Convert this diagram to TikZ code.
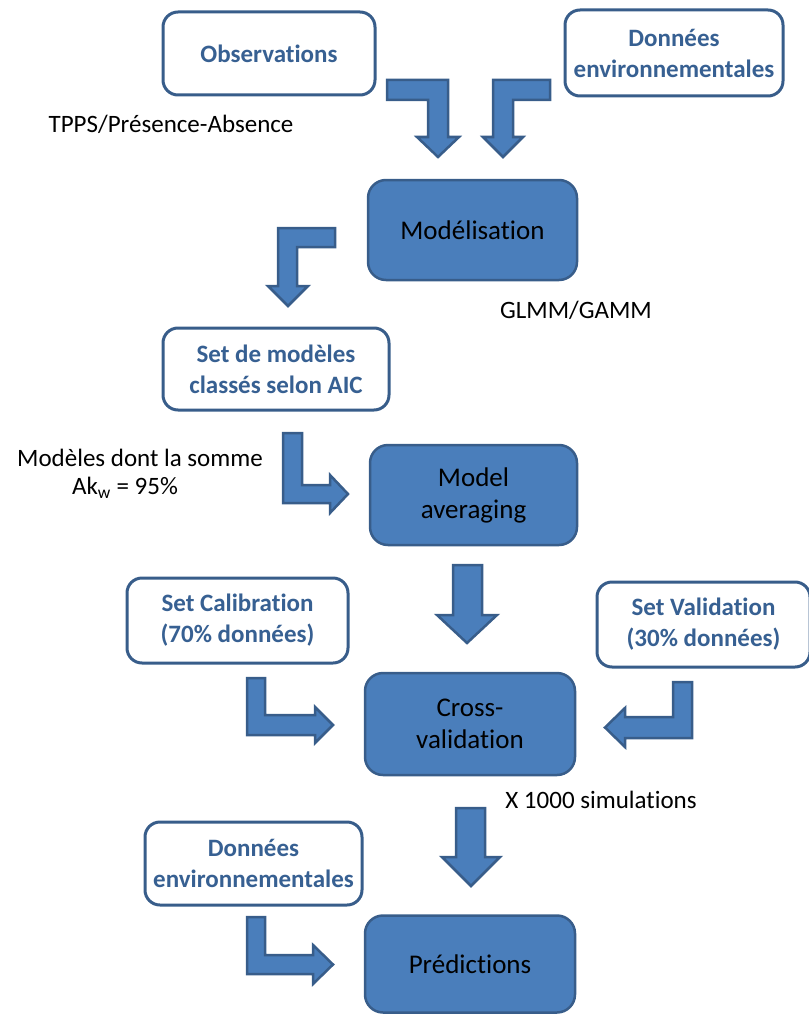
\documentclass[tikz,border=0pt]{standalone}
\usepackage{fontspec}
\setmainfont[RawFeature={-liga;-calt;-dlig}]{Carlito}

\definecolor{boxfill}{HTML}{4A7EBB}
\definecolor{boxline}{HTML}{385D8A}
\definecolor{boxtext}{HTML}{376092}

\tikzset{
  inbox/.style={draw=boxline, line width=3pt, rounded corners=15pt, fill=white,
    text=boxtext, font=\fontsize{25}{31}\selectfont\bfseries, align=center, inner sep=0pt},
  stepbox/.style={draw=boxline, line width=2.5pt, rounded corners=18pt, fill=boxfill,
    font=\fontsize{27}{32}\selectfont, align=center, inner sep=0pt},
  blockarrow/.style={draw=boxline, line width=2.5pt, fill=boxfill, line join=miter},
  note/.style={font=\fontsize{25}{30}\selectfont, inner sep=0pt}
}

\begin{document}
\begin{tikzpicture}[x=1pt, y=-1pt]
  \useasboundingbox (0,0) rectangle (808,1014);

  % input boxes
  \node [inbox, minimum width=212pt, minimum height=83pt] (obs) at (269,53.5) {Observations};
  \node [inbox, minimum width=218pt, minimum height=86pt] (envtop) at (674,53) {Données\\environnementales};
  \node [inbox, minimum width=226pt, minimum height=82pt] (setmod) at (276,369) {Set de modèles\\classés selon AIC};
  \node [inbox, minimum width=221pt, minimum height=85pt] (calib) at (237.5,620.5) {Set Calibration\\(70\% données)};
  \node [inbox, minimum width=213pt, minimum height=85pt] (valid) at (703.5,624.5) {Set Validation\\(30\% données)};
  \node [inbox, minimum width=217pt, minimum height=83pt] (envbot) at (253.5,863.5) {Données\\environnementales};

  % steps
  \node [stepbox, minimum width=209pt, minimum height=100pt] (model) at (472.5,230) {Modélisation};
  \node [stepbox, minimum width=207pt, minimum height=100pt] (avg) at (473.5,495) {Model\\averaging};
  \node [stepbox, minimum width=210pt, minimum height=102pt] (cross) at (470,724) {Cross-\\validation};
  \node [stepbox, minimum width=210pt, minimum height=97pt] (pred) at (470,964) {Prédictions};

  % notes
  \node [note] (tpps) at (171,124) {TPPS/Présence-Absence};
  \node [note] (glmm) at (576,310) {GLMM/GAMM};
  \node [note] (somme) at (140,458) {Modèles dont la somme};
  \node [note] (akw) at (125,488) {Ak\textsubscript{w} = 95\%};
  \node [note] (sims) at (601,800) {X 1000 simulations};

  % block arrows
  \draw [blockarrow] (387,80)--(448,80)--(448,137)--(459,137)--(438,157)--(417,137)--(428,137)--(428,100)--(387,100)--cycle;
  \draw [blockarrow] (550,80)--(493,80)--(493,137)--(483,137)--(503,157)--(523,137)--(513,137)--(513,100)--(550,100)--cycle;
  \draw [blockarrow] (335,228)--(278,228)--(278,286)--(268,286)--(288,306)--(308,286)--(297,286)--(297,247)--(335,247)--cycle;
  \draw [blockarrow] (283,433)--(302,433)--(302,485)--(330,485)--(330,475)--(348,494)--(330,513)--(330,503)--(283,503)--cycle;
  \draw [blockarrow] (453,565)--(482,565)--(482,615)--(497,615)--(467,643)--(437,615)--(453,615)--cycle;
  \draw [blockarrow] (247,678)--(265,678)--(265,715)--(315,715)--(315,707)--(333,725)--(315,743)--(315,735)--(247,735)--cycle;
  \draw [blockarrow] (692,682)--(673,682)--(673,717)--(625,717)--(625,708)--(605,727.5)--(625,747)--(625,738)--(692,738)--cycle;
  \draw [blockarrow] (456,808)--(485,808)--(485,857)--(500,857)--(471,886)--(442,857)--(456,857)--cycle;
  \draw [blockarrow] (247,917)--(265,917)--(265,955)--(313,955)--(313,945)--(333,964.5)--(313,984)--(313,974)--(247,974)--cycle;
\end{tikzpicture}
\end{document}
